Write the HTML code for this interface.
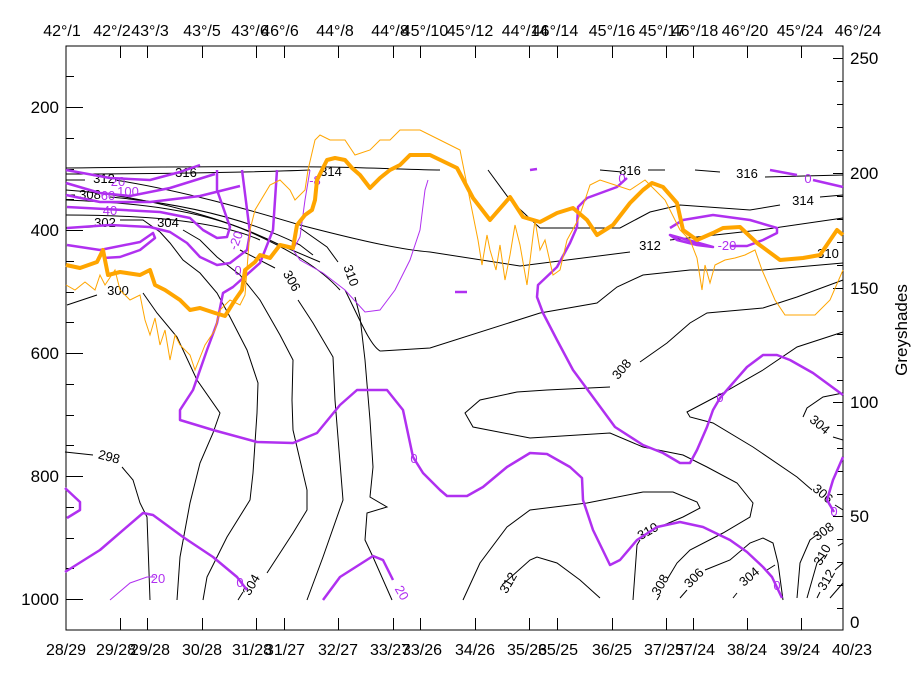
<!DOCTYPE html>
<html><head><meta charset="utf-8"><style>
html,body{margin:0;padding:0;background:#fff;}
svg{display:block;font-family:"Liberation Sans",sans-serif;}
</style></head><body>
<svg width="919" height="680" viewBox="0 0 919 680" xmlns="http://www.w3.org/2000/svg">
<rect width="919" height="680" fill="#fff"/>
<!-- frame -->
<rect x="66" y="46" width="777" height="584" fill="none" stroke="#000" stroke-width="1"/>
<!-- left ticks -->
<g stroke="#000" stroke-width="1">
<path d="M66,76.5h8M66,107.5h17M66,138.5h8M66,169.5h8M66,199.5h8M66,230.5h17M66,261.5h8M66,292.5h8M66,322.5h8M66,353.5h17M66,384.5h8M66,415.5h8M66,445.5h8M66,476.5h17M66,507.5h8M66,538.5h8M66,568.5h8M66,599.5h17"/>
<!-- right ticks -->
<path d="M843,58.5h-10M843,81.5h-6M843,104.5h-6M843,127.5h-6M843,150.5h-6M843,173.5h-10M843,196.5h-6M843,219.5h-6M843,242.5h-6M843,265.5h-6M843,288.5h-10M843,311.5h-6M843,334.5h-6M843,357.5h-6M843,380.5h-6M843,402.5h-10M843,425.5h-6M843,448.5h-6M843,471.5h-6M843,494.5h-6M843,516.5h-10M843,539.5h-6M843,562.5h-6M843,585.5h-6M843,608.5h-6"/>
<!-- top ticks -->
<path d="M120.5,46v12M147.5,46v12M202.5,46v12M256.5,46v12M284.5,46v12M338.5,46v12M393.5,46v12M420.5,46v12M475.5,46v12M529.5,46v12M557.5,46v12M612.5,46v12M666.5,46v12M693.5,46v12M747.5,46v12M801.5,46v12"/>
<!-- bottom ticks -->
<path d="M120.5,630v-12M147.5,630v-12M202.5,630v-12M256.5,630v-12M284.5,630v-12M338.5,630v-12M393.5,630v-12M420.5,630v-12M475.5,630v-12M529.5,630v-12M557.5,630v-12M612.5,630v-12M666.5,630v-12M693.5,630v-12M747.5,630v-12M801.5,630v-12"/>
</g>
<!-- axis labels -->
<g font-size="17" fill="#000">
<g text-anchor="end">
<text x="59" y="113">200</text><text x="59" y="236">400</text><text x="59" y="359">600</text><text x="59" y="482">800</text><text x="59" y="605">1000</text>
</g>
<g text-anchor="start">
<text x="850" y="64">250</text><text x="850" y="179">200</text><text x="850" y="294">150</text><text x="850" y="408">100</text><text x="850" y="522">50</text><text x="850" y="628">0</text>
</g>
<text transform="translate(907,330) rotate(-90)" text-anchor="middle" font-size="17">Greyshades</text>
<g text-anchor="middle" font-size="16">
<text x="62" y="36">42°/1</text><text x="112" y="36">42°/2</text><text x="150" y="36">43°/3</text><text x="202" y="36">43°/5</text><text x="250" y="36">43°/6</text><text x="280" y="36">46°/6</text><text x="335" y="36">44°/8</text><text x="390" y="36">44°/8</text><text x="425" y="36">45°/10</text><text x="470" y="36">45°/12</text><text x="525" y="36">44°/14</text><text x="555" y="36">46°/14</text><text x="612" y="36">45°/16</text><text x="662" y="36">45°/17</text><text x="695" y="36">46°/18</text><text x="745" y="36">46°/20</text><text x="800" y="36">45°/24</text><text x="858" y="36">46°/24</text>
</g>
<g text-anchor="middle" font-size="16">
<text x="66" y="655">28/29</text><text x="116" y="655">29/28</text><text x="150" y="655">29/28</text><text x="202" y="655">30/28</text><text x="252" y="655">31/28</text><text x="285" y="655">31/27</text><text x="338" y="655">32/27</text><text x="390" y="655">33/27</text><text x="422" y="655">33/26</text><text x="475" y="655">34/26</text><text x="527" y="655">35/26</text><text x="558" y="655">35/25</text><text x="612" y="655">36/25</text><text x="664" y="655">37/25</text><text x="695" y="655">37/24</text><text x="747" y="655">38/24</text><text x="800" y="655">39/24</text><text x="852" y="655">40/23</text>
</g>
</g>

<!-- black contours -->
<g fill="none" stroke="#000" stroke-width="1">
<path d="M66,168 C150,167 250,166 330,167 C380,168 420,170 440,170"/>
<path d="M600,170 L622,172 M648,170 L665,170 M695,170 L720,172 M765,177 L843,175"/>
<path d="M66,174 C160,174 260,172 310,170"/>
<path d="M488,170 L510,200 L540,228 L620,228 L650,212 L680,205 L750,210 L780,205 M820,197 L843,195"/>
<path d="M66,180 L85,180 M115,180 C180,190 250,210 300,225 C350,238 400,250 430,252 L520,266 L630,252 M670,240 L760,230 L843,218"/>
<path d="M66,190 C150,196 230,220 280,245 L320,262 M345,290 C360,320 370,345 380,351 L430,348 L540,313 L597,303 L617,287 L643,275 L690,270 L763,270 L843,263"/>
<path d="M66,195 L75,195 M110,197 C200,205 260,225 300,245 L313,255"/>
<path d="M66,200 C140,203 200,210 250,232 C290,250 320,268 340,290"/>
<path d="M66,215 C150,215 220,222 260,240"/>
<path d="M66,228 L93,227 M120,220 L143,220 L160,232 L170,243 L183,260 L200,273 L217,293 L230,317 L247,350 L258,383 L257,413 L253,473 L250,500 L227,537 L207,577 L203,600"/>
<path d="M183,230 L200,240 L217,257 L240,275 L260,300 L280,335 L293,360 L292,400 L293,430 L307,490 L307,510 L293,533 L267,573 M243,592 L238,600"/>
<path d="M240,250 L275,268 M298,300 L313,323 L333,357 L335,400 L343,500 L323,557 L307,600"/>
<path d="M300,228 L327,247 L338,262 M355,297 L360,317 L365,360 L370,420 L373,467 L370,497 L387,507 L367,513 L365,540 L373,557 L392,600"/>
<path d="M67,305 L97,295 M143,293 L157,313 L177,337 L197,380 L220,413 L213,433 L200,463 L190,503 L180,557 L177,600"/>
<path d="M65,452 L93,455 M122,467 L133,480 L140,503 L147,517 L150,600"/>
<path d="M843,280 L797,297 L763,308 L707,313 L690,323 L667,343 L640,362 M610,387 L547,390 L517,392 L480,400 L465,413 L473,427 L530,438 L610,433 L643,447 L683,455 L707,467 L737,483 L753,503 L750,517 L723,533 L690,550 L677,563 L668,578 M660,595 L657,600"/>
<path d="M843,332 L797,347 L763,370 L723,393 L687,412 L690,417 L713,423 L753,447 L797,477 L812,490 M835,505 L843,510"/>
<path d="M843,393 L823,397 L807,408 L803,417 M833,437 L843,440"/>
<path d="M463,600 L480,563 L507,527 L530,510 L587,503 L643,492 L673,492 L697,502 L700,508 L683,517 L664,525 M640,540 L637,545 L633,600"/>
<path d="M502,585 L530,560 L537,557 L557,563 L580,580 L600,598"/>
<path d="M680,598 L687,590 M705,570 L730,560 L750,543 L763,538 L773,543 L778,563 L783,600"/>
<path d="M733,598 L737,593 M767,570 L775,565"/>
<path d="M797,598 L800,563 L810,540 L818,534"/>
<path d="M807,598 L817,563 L824,556 M838,546 L843,543"/>
<path d="M817,598 L820,592 M835,570 L843,563"/>
<path d="M830,598 L843,583"/>
</g>
<g font-size="13" fill="#000" text-anchor="middle">
<text x="104" y="183">312</text><text x="186" y="177">316</text><text x="90" y="199">308</text><text x="105" y="227">302</text><text x="168" y="227">304</text>
<text x="331" y="176">314</text><text x="630" y="175">316</text><text x="747" y="178">316</text><text x="803" y="205">314</text>
<text x="650" y="250">312</text><text x="828" y="258">310</text>
<text transform="translate(288,283) rotate(60)">306</text><text transform="translate(347,277) rotate(70)">310</text>
<text x="118" y="295">300</text><text transform="translate(108,461) rotate(15)">298</text>
<text transform="translate(625,372) rotate(-50)">308</text><text transform="translate(817,428) rotate(40)">304</text>
<text transform="translate(820,497) rotate(40)">306</text><text transform="translate(826,535) rotate(-35)">308</text>
<text transform="translate(826,557) rotate(-60)">310</text><text transform="translate(830,582) rotate(-60)">312</text>
<text transform="translate(650,535) rotate(-30)">310</text><text transform="translate(512,585) rotate(-60)">312</text>
<text transform="translate(664,587) rotate(-60)">308</text><text transform="translate(697,581) rotate(-45)">306</text>
<text transform="translate(752,580) rotate(-40)">304</text><text transform="translate(255,587) rotate(-60)">304</text>
</g>

<!-- purple thick -->
<g fill="none" stroke="#b030f0" stroke-width="2.5" stroke-linejoin="round">
<path d="M66,170 L110,178 L150,180 L180,172 L200,165"/>
<path d="M66,183 L100,193 L130,196 L170,188 L215,174"/>
<path d="M66,195 L100,202 L150,202 L200,196 L240,186"/>
<path d="M67,207 L160,212 L190,218 L203,230 L217,238 L227,237 L230,227 L217,190 L217,170"/>
<path d="M67,228 L110,225 L150,227 L170,232 L187,243 L200,257 L217,265 L230,263 L247,250 L250,233 L242,170"/>
<path d="M67,245 L100,250 L140,242 L153,233 L155,238 L140,250 L120,257 L103,258"/>
<path d="M277,170 L273,230 L260,263 L233,287 L223,293 L217,323 L207,350 L193,390 L180,410 L180,420 L213,430 L257,442 L293,443 L317,433 L340,405 L357,390 L387,390 L403,410 L413,457 L423,473 L440,490 L447,496 L467,496 L483,487 L507,467 L530,453 L547,454 L570,467 L582,478 L583,500 L593,530 L610,565 L620,560 L637,540 L657,527 L680,522 L703,527 L730,540 L747,552 L763,567 L772,577 L782,598"/>
<path d="M627,178 L617,187 L587,198 L578,207 L577,227 L570,243 L557,267 L538,285 L537,297 L543,313 L557,340 L573,370 L590,393 L615,427 L643,445 L663,453 L680,463 L690,463 L697,450 L707,427 L713,410 L720,398 L733,383 L747,367 L763,355 L777,355 L790,360 L813,373 L843,395"/>
<path d="M843,457 L833,480 L827,500 L834,512"/>
<path d="M770,170 L797,175 M813,180 L843,187"/>
<path d="M670,228 L683,220 L713,215 L750,220 L777,228 L777,233 L763,240 L747,246 L730,246 M713,247 L697,245 L677,240 L670,235 Z"/>
<path d="M65,488 L80,502 L80,510 L67,518"/>
<path d="M65,572 L100,550 L143,513 L153,515 L183,537 L213,557 L237,577 L247,590"/>
<path d="M323,600 L340,577 L373,556 L383,560 L393,580"/>
<path d="M530,170 L537,169"/>
<path d="M455,292 L467,292"/>
</g>
<g fill="none" stroke="#b030f0" stroke-width="1">
<path d="M110,600 L130,583 L147,577 L155,577"/>
<path d="M310,170 L305,200 L300,237 L293,250 L300,260 L323,273 L345,290 L365,312 L380,310 L395,290 L410,260 L420,230 L425,190 L428,180"/>
</g>
<g font-size="13" fill="#b030f0" text-anchor="middle">
<text x="118" y="186">20</text><text x="128" y="196">100</text><text x="108" y="200">60</text><text x="110" y="215">40</text>
<text x="240" y="242" transform="rotate(-70,240,242)">-20</text><text x="238" y="275">0</text><text x="315" y="185">-8</text>
<text x="414" y="463">0</text><text x="720" y="402">0</text><text x="727" y="250">-20</text><text x="808" y="183">0</text><text x="622" y="183">0</text>
<text x="158" y="583">20</text><text x="240" y="587">0</text><text x="398" y="595" transform="rotate(60,398,595)">20</text><text x="777" y="590">0</text><text x="834" y="516">0</text>
</g>

<!-- orange thin -->
<path fill="none" stroke="#ffa500" stroke-width="1" d="M66,285 L75,290 L85,282 L95,290 L100,275 L105,285 L115,270 L120,290 L130,300 L140,295 L145,320 L150,335 L155,318 L160,345 L165,330 L170,360 L175,335 L180,345 L190,355 L195,370 L205,345 L215,330 L220,310 L230,300 L240,305 L245,295 L250,230 L255,210 L270,185 L280,180 L290,190 L295,200 L305,190 L308,170 L315,140 L320,135 L330,140 L345,140 L355,155 L370,150 L380,140 L390,140 L400,130 L420,130 L440,140 L460,150 L465,175 L470,200 L478,240 L482,265 L487,235 L490,250 L496,270 L500,245 L505,280 L510,255 L515,225 L520,245 L527,285 L535,220 L540,250 L545,240 L553,275 L560,270 L567,240 L578,220 L585,200 L590,185 L600,180 L615,185 L630,190 L645,180 L655,190 L665,200 L670,210 L680,230 L690,240 L697,258 L702,290 L705,265 L710,283 L715,265 L725,260 L735,258 L745,255 L755,250 L762,270 L775,300 L785,315 L800,315 L815,315 L830,300 L843,270"/>
<!-- orange thick -->
<path fill="none" stroke="#ffa500" stroke-width="4" stroke-linejoin="round" d="M66,265 L80,268 L97,262 L103,250 L108,275 L120,272 L140,275 L150,270 L155,285 L165,290 L180,300 L190,310 L200,308 L215,313 L225,316 L235,300 L242,290 L245,270 L255,262 L260,255 L270,258 L280,245 L293,248 L297,225 L305,215 L312,210 L315,200 L317,180 L322,170 L327,160 L335,158 L345,160 L352,168 L360,175 L370,188 L380,178 L390,170 L400,165 L410,155 L420,155 L430,155 L457,168 L473,198 L490,220 L510,197 L523,217 L540,222 L557,213 L573,208 L587,220 L597,235 L613,225 L630,203 L643,190 L652,183 L663,187 L677,203 L683,230 L697,240 L713,233 L723,228 L740,227 L757,243 L780,260 L803,258 L820,255 L837,230 L843,235"/>
</svg>
</body></html>
